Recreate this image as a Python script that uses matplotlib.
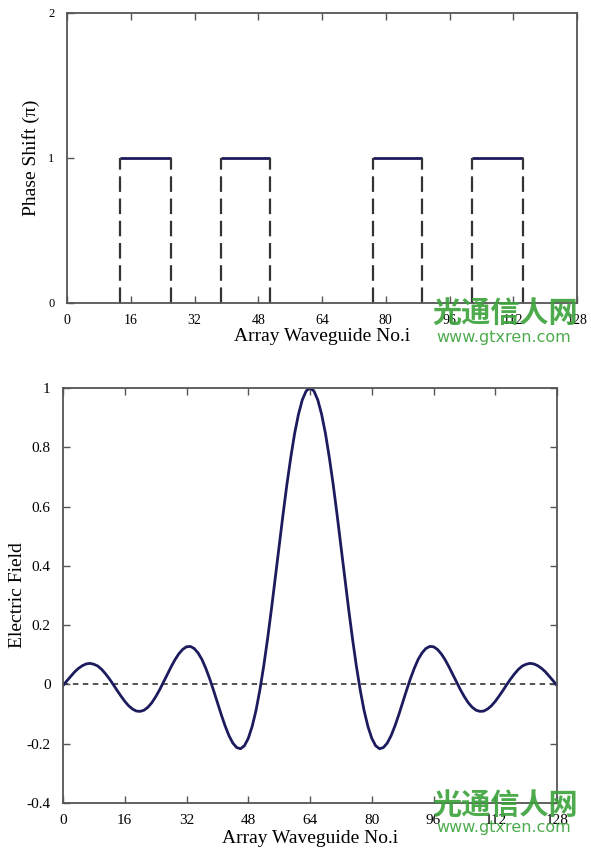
import matplotlib
matplotlib.use("Agg")
import matplotlib.pyplot as plt
from matplotlib.ticker import FuncFormatter

plt.rcParams['font.family'] = ['Liberation Serif', 'DejaVu Serif']
plt.rcParams['axes.unicode_minus'] = False

# phase plot: waveguide ranges with pi phase shift
pi_start = [13.3, 38.6, 76.8, 101.7]
pi_end = [26.0, 51.0, 89.0, 114.4]
phase_level = 1

# electric field per waveguide 0..128
waveguide = list(range(0, 129))
field = [-0.004, 0.012, 0.027, 0.042, 0.054, 0.063, 0.069, 0.071, 0.068, 0.062,
         0.051, 0.036, 0.019, 0.000, -0.020, -0.039, -0.057, -0.072, -0.083, -0.090,
         -0.091, -0.087, -0.077, -0.062, -0.042, -0.019, 0.007, 0.033, 0.059, 0.083,
         0.103, 0.118, 0.127, 0.128, 0.121, 0.106, 0.084, 0.054, 0.019, -0.020,
         -0.061, -0.102, -0.140, -0.173, -0.198, -0.213, -0.217, -0.207, -0.182, -0.142,
         -0.088, -0.019, 0.062, 0.154, 0.254, 0.360, 0.467, 0.573, 0.674, 0.765,
         0.846, 0.911, 0.960, 0.990, 1.000, 0.990, 0.960, 0.911, 0.846, 0.765,
         0.674, 0.573, 0.467, 0.360, 0.254, 0.154, 0.062, -0.019, -0.088, -0.142,
         -0.182, -0.207, -0.217, -0.213, -0.198, -0.173, -0.140, -0.102, -0.061, -0.020,
         0.019, 0.054, 0.084, 0.106, 0.121, 0.128, 0.127, 0.118, 0.103, 0.083,
         0.059, 0.033, 0.007, -0.019, -0.042, -0.062, -0.077, -0.087, -0.091, -0.090,
         -0.083, -0.072, -0.057, -0.039, -0.020, 0.000, 0.019, 0.036, 0.051, 0.062,
         0.068, 0.071, 0.069, 0.063, 0.054, 0.042, 0.027, 0.012, -0.004]

x_ticks = [0, 16, 32, 48, 64, 80, 96, 112, 128]

navy = '#1b1b5e'
spine_col = '#555555'
green = '#3aa23a'

fig = plt.figure(figsize=(5.91, 8.48), dpi=100)


def style_axes(ax, xsize, ysize, right_ticks=True):
    for s in ax.spines.values():
        s.set_color(spine_col)
        s.set_linewidth(1.3)
    ax.tick_params(direction='in', length=5, width=1, color=spine_col,
                   top=True, right=right_ticks)
    ax.tick_params(axis='x', labelsize=xsize, pad=8)
    ax.tick_params(axis='y', labelsize=ysize, pad=9)
    ax.set_xticks(x_ticks)
    ax.set_xlim(0, 128)


def watermark(y_cn, y_url):
    fig.text(0.855, y_cn, '光通信人网', fontsize=21, color=green, weight='bold',
             family=['Noto Sans CJK SC'], ha='center', va='center', alpha=0.9)
    fig.text(0.853, y_url, 'www.gtxren.com', fontsize=11.5, color=green,
             family=['DejaVu Sans'], ha='center', va='center', alpha=0.9)


# top: phase shift
ax1 = fig.add_axes([0.1134, 0.6427, 0.863, 0.342])
style_axes(ax1, 10, 9, right_ticks=False)
ax1.hlines([phase_level] * len(pi_start), pi_start, pi_end, color=navy, lw=2)
ax1.vlines(pi_start + pi_end, 0, phase_level, color='#333333', lw=1.6,
           linestyles=(0, (7, 3)))
ax1.set_ylim(0, 2)
ax1.set_yticks([0, 1, 2])
ax1.set_ylabel('Phase Shift (π)', fontsize=14, labelpad=6)
ax1.set_xlabel('Array Waveguide No.i', fontsize=14, labelpad=1)

# bottom: electric field
ax2 = fig.add_axes([0.1066, 0.0531, 0.836, 0.4894])
style_axes(ax2, 11, 11)
ax2.plot([0, 128], [0, 0], color='#444444', lw=1.3, ls=(0, (3, 2.5)))
ax2.plot(waveguide, field, color=navy, lw=2)
ax2.set_ylim(-0.4, 1)
ax2.set_yticks([-0.4, -0.2, 0, 0.2, 0.4, 0.6, 0.8, 1])
ax2.yaxis.set_major_formatter(FuncFormatter(lambda v, p: '%g' % round(v, 1)))
ax2.set_ylabel('Electric Field', fontsize=14, labelpad=0)
ax2.set_xlabel('Array Waveguide No.i', fontsize=14, labelpad=2)

watermark(0.631, 0.602)
watermark(0.051, 0.024)

fig.savefig('out.png', dpi=100)
